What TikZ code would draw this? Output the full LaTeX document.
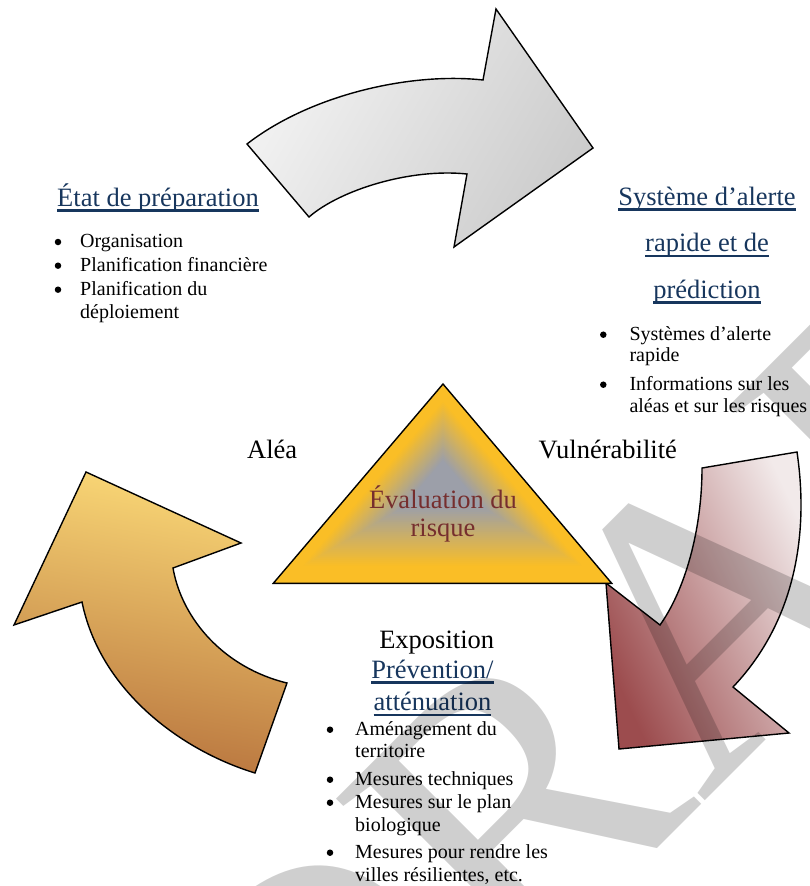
\documentclass[tikz,border=0pt]{standalone}
\usepackage{fontspec}
\setmainfont{Liberation Serif}
\usetikzlibrary{calc}
\definecolor{navy}{RGB}{23,54,93}
\definecolor{evalred}{RGB}{118,46,46}
\definecolor{tgold}{RGB}{250,190,38}
\definecolor{tgray}{RGB}{152,158,174}
\definecolor{topL}{RGB}{243,243,243}
\definecolor{topD}{RGB}{204,204,204}
\definecolor{leftT}{RGB}{250,216,118}
\definecolor{leftB}{RGB}{184,116,62}
\definecolor{rightD}{RGB}{156,76,78}
\definecolor{rightL}{RGB}{242,234,234}
\newcommand\ulx[1]{\setbox0=\hbox{#1}\rlap{\rule[-5.5pt]{\wd0}{2.4pt}}\box0}
\tikzset{
  arr/.style={draw=black, line width=1.4pt, line join=miter},
  big/.style={font=\fontsize{26.5}{30}\selectfont, inner sep=0pt, anchor=base},
  hd/.style={big, text=navy},
  li/.style={font=\fontsize{20}{23}\selectfont, inner sep=0pt, anchor=base west},
  dot/.style={circle, fill=black, inner sep=0pt, minimum size=6.5pt},
  wmark/.style={font=\fontsize{400}{400}\selectfont, text=black, opacity=0.19, inner sep=0pt},
}
\begin{document}
\begin{tikzpicture}[x=1pt,y=-1pt]
\useasboundingbox (0,0) rectangle (810,886);
% top arrow
\path[arr, left color=topL, right color=topD, shading angle=60]
  (247,144) -- (309,217) .. controls (340,190) and (410,168) .. (467,174)
  -- (454,247) -- (593,148) -- (496,9) -- (483,80)
  .. controls (410,72) and (310,95) .. (247,144) -- cycle;
% left arrow
\path[arr, top color=leftT, bottom color=leftB, shading angle=-10]
  (86,472) -- (241,543) -- (173,568) .. controls (182,620) and (225,668) .. (287,683)
  -- (255,773) .. controls (180,750) and (100,690) .. (82,602) -- (14,625) -- cycle;
% right arrow
\path[arr, left color=rightD, right color=rightL, shading angle=115]
  (702,468) -- (797,452) .. controls (810,540) and (792,625) .. (733,687)
  -- (789,733) -- (619,749) -- (606,583) -- (660,625)
  .. controls (685,590) and (702,530) .. (702,468) -- cycle;
% triangle with glow
\coordinate (tA) at (443,384);
\coordinate (tB) at (611.7,583.3);
\coordinate (tC) at (273.3,583.3);
\coordinate (tc) at (443,484);
\foreach \i in {0,...,49} {
  \pgfmathsetmacro\s{1-\i/50}
  \pgfmathtruncatemacro\p{max(0,min(96,100*(0.84-\s)/0.62))}
  \fill[tgray!\p!tgold] ($(tc)!\s!(tA)$) -- ($(tc)!\s!(tB)$) -- ($(tc)!\s!(tC)$) -- cycle;
}
\draw[line width=1.4pt, line join=miter] (tA) -- (tB) -- (tC) -- cycle;
\node[big, text=evalred] (ev1) at (443,508.3) {Évaluation du};
\node[big, text=evalred] (ev2) at (443,536.7) {risque};
% corner labels
\node[big, anchor=base west] (alea) at (247,458) {Aléa};
\node[big, anchor=base west] (vuln) at (538.5,458) {Vulnérabilité};
\node[big] (expo) at (436.7,648) {Exposition};
% left block
\node[hd] (h1) at (158,206) {\ulx{État de préparation}};
\node[dot] (b11) at (58,242) {};
\node[li] (l11) at (80,247.3) {Organisation};
\node[dot] (b12) at (58,265.7) {};
\node[li] (l12) at (80,271) {Planification financière};
\node[dot] (b13) at (58,289.7) {};
\node[li] (l13) at (80,295) {Planification du};
\node[li] (l14) at (80,318.3) {déploiement};
% right block
\node[hd] (h2a) at (707,205) {\ulx{Système d’alerte}};
\node[hd] (h2b) at (707,251.7) {\ulx{rapide et de}};
\node[hd] (h2c) at (707,298.3) {\ulx{prédiction}};
\node[dot] (b21) at (603.3,334.7) {};
\node[li] (l21) at (629.3,340) {Systèmes d’alerte};
\node[li] (l22) at (629.3,361.7) {rapide};
\node[dot] (b23) at (603.3,384.7) {};
\node[li] (l23) at (629.3,390) {Informations sur les};
\node[li] (l24) at (629.3,412.7) {aléas et sur les risques};
% bottom block
\node[hd] (h3a) at (432.5,678) {\ulx{Prévention/}};
\node[hd] (h3b) at (432.5,710.7) {\ulx{atténuation}};
\node[dot] (b31) at (330,729.7) {};
\node[li] (l31) at (355,735) {Aménagement du};
\node[li] (l32) at (355,757) {territoire};
\node[dot] (b33) at (330,779.7) {};
\node[li] (l33) at (355,785) {Mesures techniques};
\node[dot] (b34) at (330,802.7) {};
\node[li] (l34) at (355,808) {Mesures sur le plan};
\node[li] (l35) at (355,831) {biologique};
\node[dot] (b36) at (330,852.7) {};
\node[li] (l36) at (355,858) {Mesures pour rendre les};
\node[li] (l37) at (355,881) {villes résilientes, etc.};
% watermark
\node[wmark, rotate=45] (wm) at (680,640) {DRAFT};
\end{tikzpicture}
\end{document}
